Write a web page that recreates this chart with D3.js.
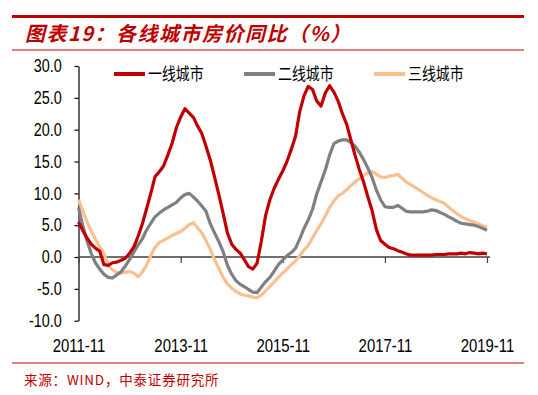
<!DOCTYPE html>
<html>
<head>
<meta charset="utf-8">
<script src="https://cdnjs.cloudflare.com/ajax/libs/d3/7.8.5/d3.min.js"></script>
<style>
  body { margin: 0; background: #fff; }
  svg { display: block; }
</style>
</head>
<body>
<div id="chart"></div>
<script>
// monthly series, 2011-11 .. 2019-11
const startMonth = new Date(2011, 10, 1);
const seriesNames = ["一线城市", "二线城市", "三线城市"];
const seriesColors = ["#C00000", "#808080", "#FAC090"];

const tier1 = [
    5.5, 4.2, 3.0, 2.0, 1.4, 0.9, -1.2, -1.3, -0.9, -0.8,
    -0.5, -0.2, 0.6, 1.6, 3.3, 5.3, 7.5, 10.0, 12.6, 13.4,
    14.3, 16.0, 17.9, 20.3, 22.0, 23.3, 22.6, 21.9, 20.6, 19.4,
    17.4, 15.2, 12.6, 9.8, 6.8, 3.8, 2.0, 1.2, 0.6, -0.5,
    -1.5, -1.9, -1.0, 2.5, 6.5, 9.0, 10.8, 12.2, 13.5, 15.0,
    16.9, 19.0, 22.8, 25.3, 26.8, 26.3, 24.5, 23.7, 25.8, 26.9,
    25.9, 24.5, 22.5, 20.8, 18.5, 16.0, 13.8, 11.8, 9.5, 7.3,
    4.3, 2.6, 2.0, 1.5, 1.3, 1.0, 0.8, 0.5, 0.3, 0.3,
    0.3, 0.3, 0.3, 0.3, 0.4, 0.4, 0.4, 0.5, 0.5, 0.5,
    0.6, 0.5, 0.7, 0.6, 0.5, 0.6, 0.5
];
const tier2 = [
    7.8, 5.0, 2.5, 0.5, -0.9, -1.9, -2.7, -3.2, -3.3, -2.8,
    -2.3, -1.4, -0.4, 0.8, 1.9, 2.9, 4.2, 5.3, 6.3, 6.9,
    7.4, 7.8, 8.2, 8.6, 9.3, 9.8, 10.0, 9.4, 8.8, 8.0,
    7.2, 5.2, 3.8, 2.4, 0.8, -1.3, -2.7, -3.7, -4.3, -4.7,
    -5.1, -5.5, -5.6, -4.7, -3.9, -3.2, -2.2, -1.2, -0.5, 0.2,
    0.7, 1.4, 2.8, 4.5, 5.8, 7.5, 9.9, 11.8, 13.7, 16.0,
    17.8, 18.2, 18.4, 18.4, 18.0, 17.4, 16.5, 15.3, 14.0, 12.5,
    10.5, 9.0, 7.9, 7.8, 7.8, 8.1, 7.7, 7.2, 7.1, 7.1,
    7.1, 7.1, 7.2, 7.4, 7.3, 7.0, 6.7, 6.3, 6.0, 5.6,
    5.3, 5.2, 5.1, 5.0, 4.8, 4.5, 4.2
];
const tier3 = [
    9.0, 7.3, 5.5, 4.0, 2.8, 1.6, 0.6, -1.3, -2.0, -2.4,
    -2.5, -2.4, -2.3, -2.5, -3.1, -2.3, -1.3, 0.2, 1.5, 2.3,
    2.6, 3.0, 3.4, 3.7, 4.0, 4.5, 5.1, 5.4, 4.6, 3.8,
    2.6, 1.2, -0.4, -1.8, -3.2, -4.2, -4.9, -5.4, -5.8, -6.0,
    -6.1, -6.3, -6.4, -6.0, -5.3, -4.6, -3.9, -3.2, -2.5, -1.9,
    -1.2, -0.6, 0.2, 1.1, 1.8, 3.0, 4.2, 5.2, 6.5, 7.8,
    8.8, 9.6, 10.0, 10.6, 11.2, 11.8, 12.3, 12.8, 13.2, 13.4,
    13.0, 12.6, 12.5, 12.7, 12.8, 13.0, 12.4, 11.8, 11.4, 11.0,
    10.6, 10.1, 9.7, 9.3, 9.0, 8.7, 8.4, 7.8, 7.3, 6.8,
    6.3, 6.0, 5.7, 5.5, 5.2, 4.9, 4.7
];
const xTickLabels = ["2011-11", "2013-11", "2015-11", "2017-11", "2019-11"];
const yTicks = [-10, -5, 0, 5, 10, 15, 20, 25, 30];

const width = 538, height = 395;
const red = "#C00000";

const svg = d3.select("#chart")
    .append("svg")
    .attr("width", width)
    .attr("height", height);

// header and footer rules
svg.append("line")
    .attr("x1", 12).attr("x2", 524).attr("y1", 16.5).attr("y2", 16.5)
    .attr("stroke", red).attr("stroke-width", 3);
svg.append("line")
    .attr("x1", 12).attr("x2", 524).attr("y1", 50).attr("y2", 50)
    .attr("stroke", red).attr("stroke-width", 1.2);
svg.append("line")
    .attr("x1", 12).attr("x2", 524).attr("y1", 363).attr("y2", 363)
    .attr("stroke", red).attr("stroke-width", 1);

svg.append("text")
    .attr("x", 25).attr("y", 41)
    .attr("fill", red)
    .style("font-family", "'Noto Sans CJK SC', sans-serif")
    .style("font-size", "20px")
    .style("letter-spacing", "1.5px")
    .style("font-weight", "bold")
    .style("font-style", "italic")
    .text("图表19：各线城市房价同比（%）");

svg.append("text")
    .attr("x", 24).attr("y", 385)
    .attr("fill", red)
    .style("font-family", "'Noto Sans CJK SC', sans-serif")
    .style("font-size", "13.5px")
    .style("letter-spacing", "0.8px")
    .text("来源：WIND，中泰证券研究所");

const parse = d3.timeParse("%Y-%m");
const dates = tier1.map((d, i) => d3.timeMonth.offset(startMonth, i));

const x = d3.scaleTime()
    .domain([parse(xTickLabels[0]), parse(xTickLabels[xTickLabels.length - 1])])
    .range([78.5, 487]);

const y = d3.scaleLinear()
    .domain([-10, 30])
    .range([320.7, 66]);

// y axis
const yAxis = d3.axisLeft(y).tickValues(yTicks).tickSize(4).tickSizeOuter(0)
    .tickFormat(d => d.toFixed(1));
const gy = svg.append("g").attr("transform", "translate(78.5,0)").call(yAxis);
gy.select(".domain").attr("stroke", "#000").attr("stroke-width", 1.2);
gy.selectAll(".tick line").attr("stroke", "#000").attr("stroke-width", 1.2);
gy.selectAll(".tick text")
    .attr("x", -21)
    .attr("transform", "scale(0.8,1)")
    .attr("fill", "#000")
    .style("font-family", "'Liberation Sans', Arial, sans-serif")
    .style("font-size", "18px");

// x axis on the zero line
const xAxis = d3.axisBottom(x).tickValues(xTickLabels.map(parse)).tickSize(6).tickSizeOuter(0)
    .tickFormat(d3.timeFormat("%Y-%m"));
const gx = svg.append("g").attr("transform", `translate(0,${y(0)})`).call(xAxis);
gx.select(".domain").attr("stroke", "#404040").attr("stroke-width", 1.6)
    .attr("d", `M78.5,0H490`);
gx.selectAll(".tick line").attr("stroke", "#404040").attr("stroke-width", 1.2);
gx.selectAll(".tick text")
    .attr("y", 82)
    .attr("transform", "scale(0.83,1)")
    .attr("fill", "#000")
    .style("font-family", "'Liberation Sans', Arial, sans-serif")
    .style("font-size", "18px");

// lines
const line = d3.line()
    .x((d, i) => x(dates[i]))
    .y(d => y(d));

[tier3, tier2, tier1].forEach((s, k) => {
    svg.append("path")
        .datum(s)
        .attr("d", line)
        .attr("fill", "none")
        .attr("stroke", seriesColors[2 - k])
        .attr("stroke-width", 3.2)
        .attr("stroke-linejoin", "round");
});

// legend
const legendX = [114, 244, 374];
seriesNames.forEach((name, i) => {
    svg.append("line")
        .attr("x1", legendX[i]).attr("x2", legendX[i] + 31)
        .attr("y1", 74).attr("y2", 74)
        .attr("stroke", seriesColors[i])
        .attr("stroke-width", 4);
    svg.append("text")
        .attr("transform", `translate(${legendX[i] + 34},80) scale(0.82,1)`)
        .attr("fill", "#000")
        .style("font-family", "'Noto Sans CJK SC', sans-serif")
        .style("font-size", "17px")
        .text(name);
});
</script>
</body>
</html>
